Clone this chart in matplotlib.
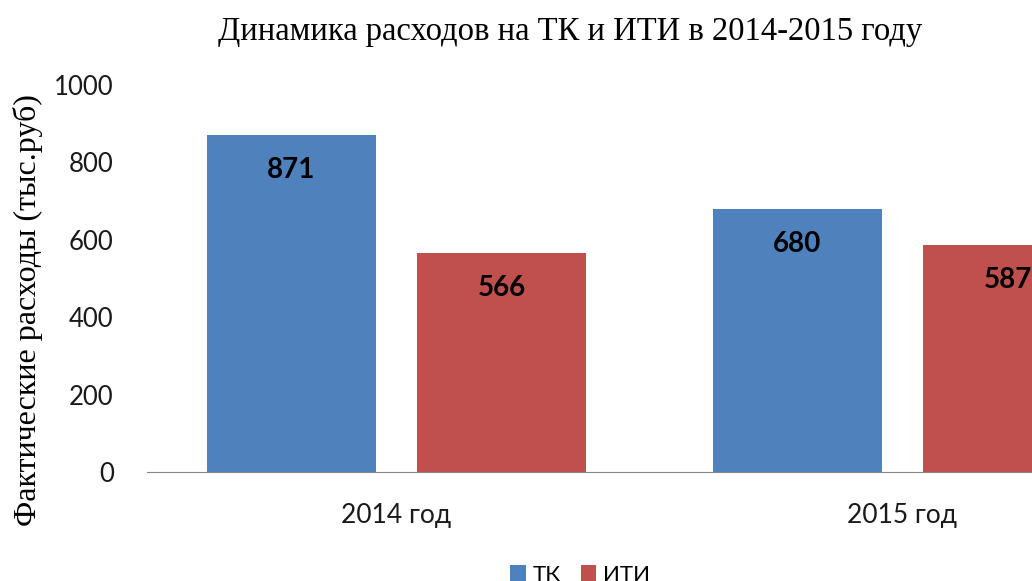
import numpy as np
import matplotlib.pyplot as plt

years = ["2014 год", "2015 год"]
series = ["ТК", "ИТИ"]
tk = [871, 680]
iti = [566, 587]
colors = ["#4F81BD", "#C0504D"]

W, H = 1032, 581
unit = 506.0  # pixels per category
x_lo, x_hi = -0.493, 1.5
fig = plt.figure(figsize=(W / 100, H / 100), dpi=100)
# the original chart is cut off on the right, so the axes run past the figure edge
ax = fig.add_axes([147 / W, (H - 472) / H, (x_hi - x_lo) * unit / W, 387 / H])

x = np.arange(len(years))
width = 0.334
off = 0.208
b1 = ax.bar(x - off, tk, width, color=colors[0], label=series[0])
b2 = ax.bar(x + off, iti, width, color=colors[1], label=series[1])

for bars in (b1, b2):
    for rect in bars:
        ax.annotate(str(int(rect.get_height())),
                    (rect.get_x() + rect.get_width() / 2, rect.get_height()),
                    xytext=(0, -25), textcoords="offset points",
                    ha="center", va="center", fontsize=20, fontweight="bold",
                    family="Lato", color="black")

ax.set_xlim(x_lo, x_hi)
ax.set_ylim(0, 1000)
ax.set_yticks(range(0, 1001, 200))
ax.set_xticks(x)
ax.set_xticklabels(years)
ax.tick_params(axis="y", length=0, labelsize=18.5, pad=24)
ax.tick_params(axis="x", length=0, labelsize=19, pad=22)
for lab in ax.get_xticklabels() + ax.get_yticklabels():
    lab.set_family("Lato")
    lab.set_color("#1a1a1a")

for s in ["top", "right", "left"]:
    ax.spines[s].set_visible(False)
ax.spines["bottom"].set_color("#868686")

fig.text(570 / W, 1 - 32 / H, "Динамика расходов на ТК и ИТИ в 2014-2015 году",
         ha="center", va="center", fontsize=23.5, family="Liberation Serif")
fig.text(28 / W, 1 - 310 / H, "Фактические расходы (тыс.руб)",
         ha="center", va="center", rotation=90, fontsize=23, family="Liberation Serif")

fig.legend(loc="center", bbox_to_anchor=(580 / W, 1 - 575 / H), ncol=2,
           frameon=False, prop={"family": "Lato", "size": 16},
           handlelength=0.7, handleheight=0.7, handletextpad=0.3, columnspacing=0.9)

fig.savefig("out.png", dpi=100)
